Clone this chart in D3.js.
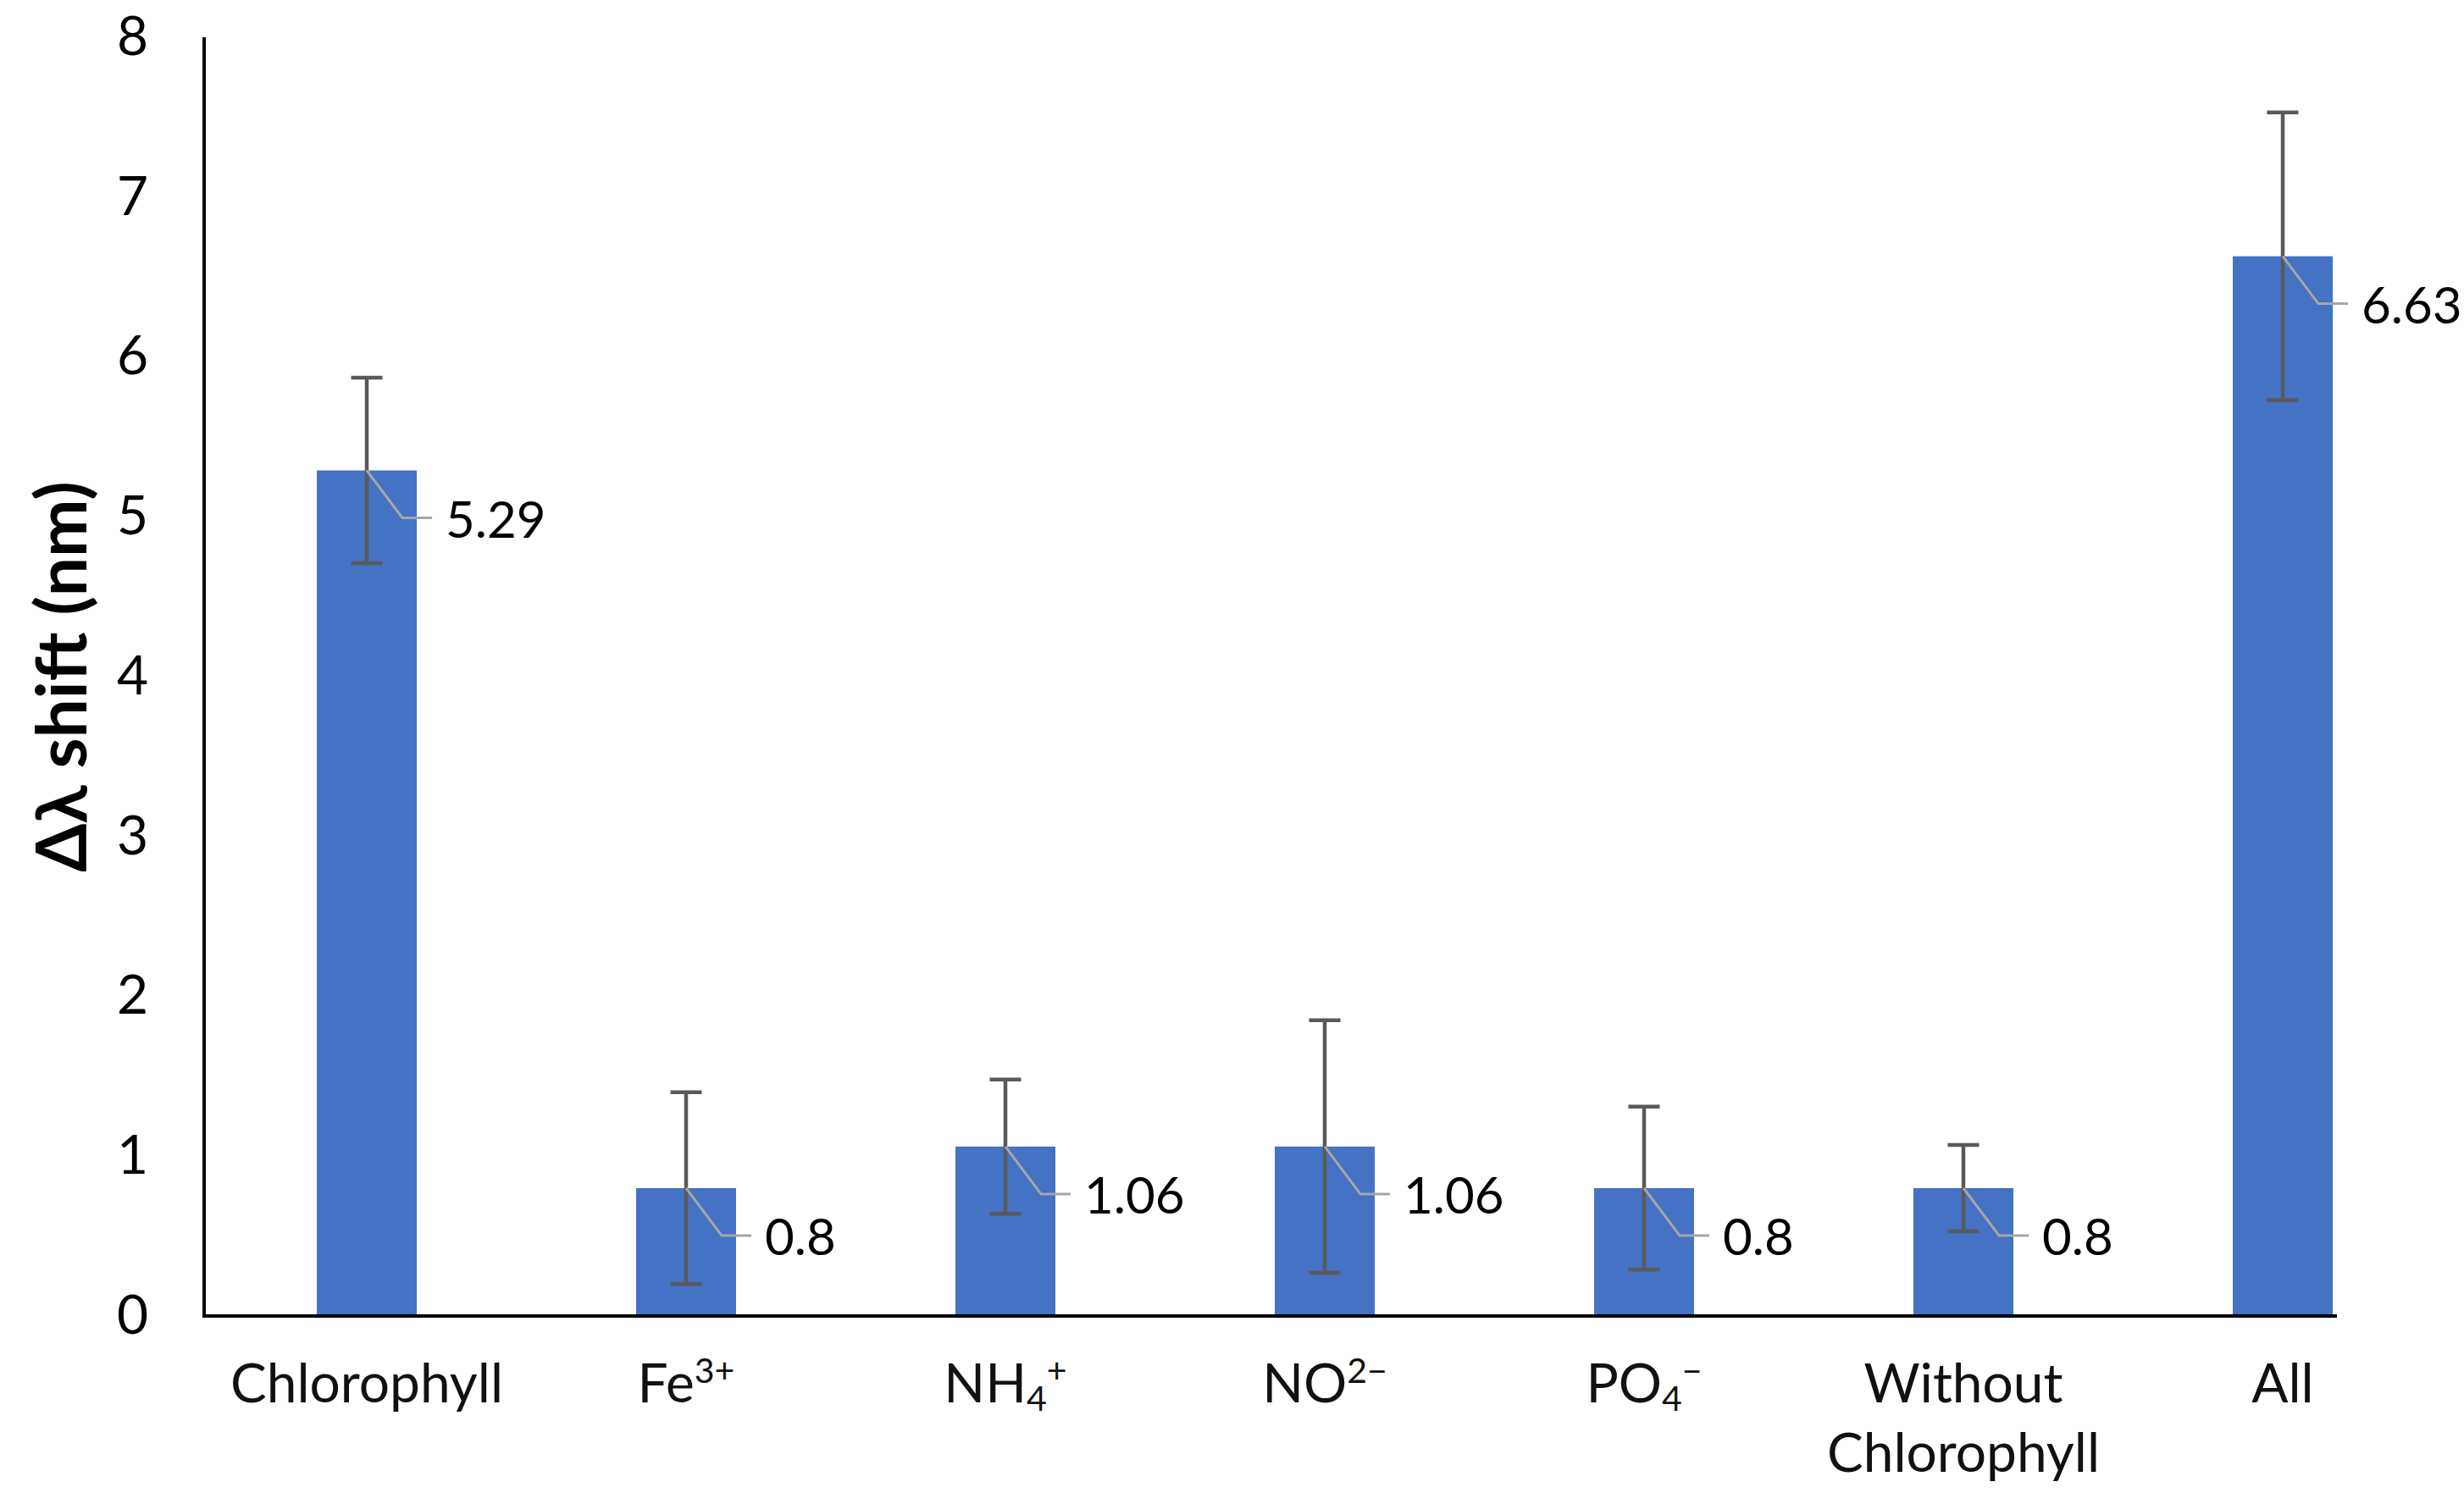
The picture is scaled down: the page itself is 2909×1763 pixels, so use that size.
<!DOCTYPE html>
<html>
<head>
<meta charset="utf-8">
<script src="https://cdn.jsdelivr.net/npm/d3@7/dist/d3.min.js"></script>
<style>
  html, body { margin: 0; padding: 0; background: #fff; }
  svg { display: block; }
  text { font-family: Lato, "Liberation Sans", sans-serif; }
</style>
</head>
<body>
<svg id="chart" width="2909" height="1763"></svg>
<script>
// ---- data ----
const categories = ["Chlorophyll", "Fe3+", "NH4+", "NO2-", "PO4-", "Without Chlorophyll", "All"];
// label parts: [text, kind] kind: n = normal, sup = superscript, sub = subscript
const labelParts = [
  [["Chlorophyll", "n"]],
  [["Fe", "n"], ["3+", "sup"]],
  [["NH", "n"], ["4", "sub"], ["+", "sup"]],
  [["NO", "n"], ["2\u2212", "sup"]],
  [["PO", "n"], ["4", "sub"], ["\u2212", "sup"]],
  [["Without", "n"]],
  [["All", "n"]]
];
const labelSecondLine = ["", "", "", "", "", "Chlorophyll", ""];
const values = [5.29, 0.8, 1.06, 1.06, 0.8, 0.8, 6.63];
const errors = [0.58, 0.6, 0.42, 0.79, 0.51, 0.27, 0.9];
const yTicks = [0, 1, 2, 3, 4, 5, 6, 7, 8];
const yTitle = "\u0394\u03bb shift (nm)";

// ---- layout ----
const svg = d3.select("#chart");
const x0 = 241, yBase = 1554, yTop = 44;
const x = d3.scaleBand()
  .domain(categories)
  .range([244.5, 2883.5])
  .paddingInner(0.687)
  .paddingOuter(0.3435);
const y = d3.scaleLinear().domain([0, 8]).range([yBase, yTop]);
const axisRightEnd = 2759;

// bars
svg.append("g").selectAll("rect")
  .data(values)
  .join("rect")
  .attr("x", (d, i) => x(categories[i]))
  .attr("y", d => y(d))
  .attr("width", x.bandwidth())
  .attr("height", d => y(0) - y(d))
  .attr("fill", "#4472C4");

// error bars
const eg = svg.append("g").attr("stroke", "#595959").attr("stroke-width", 4.5).attr("fill", "none");
values.forEach((v, i) => {
  const cx = x(categories[i]) + x.bandwidth() / 2;
  const hi = y(v + errors[i]), lo = y(v - errors[i]);
  eg.append("line").attr("x1", cx).attr("x2", cx).attr("y1", hi).attr("y2", lo);
  eg.append("line").attr("x1", cx - 18.5).attr("x2", cx + 18.5).attr("y1", hi).attr("y2", hi);
  eg.append("line").attr("x1", cx - 18.5).attr("x2", cx + 18.5).attr("y1", lo).attr("y2", lo);
});

// data labels with leader lines
const lg = svg.append("g");
values.forEach((v, i) => {
  const cx = x(categories[i]) + x.bandwidth() / 2;
  const ty = y(v);
  const off = 56;
  lg.append("path")
    .attr("d", `M${cx},${ty} L${cx + 42},${ty + off} L${cx + 77},${ty + off}`)
    .attr("fill", "none").attr("stroke", "#a6a6a6").attr("stroke-width", 3);
  lg.append("text")
    .attr("x", cx + 93).attr("y", ty + off)
    .attr("dominant-baseline", "central")
    .attr("font-size", 60).attr("fill", "#000")
    .text(d3.format("")(v));
});

// y axis
const yAxis = d3.axisLeft(y).tickValues(yTicks).tickSize(0).tickPadding(66).tickFormat(d3.format("d"));
const yg = svg.append("g").attr("transform", `translate(${x0},0)`).call(yAxis);
yg.select(".domain").remove();
yg.selectAll("text").attr("font-size", 64).attr("fill", "#000").attr("font-family", "Lato, 'Liberation Sans', sans-serif");
svg.append("line").attr("x1", x0).attr("x2", x0).attr("y1", yTop).attr("y2", yBase + 2)
  .attr("stroke", "#000").attr("stroke-width", 4);

// x axis
svg.append("line").attr("x1", x0 - 2).attr("x2", axisRightEnd).attr("y1", yBase).attr("y2", yBase)
  .attr("stroke", "#000").attr("stroke-width", 4);
const xg = svg.append("g");
categories.forEach((c, i) => {
  const cx = x(c) + x.bandwidth() / 2;
  const t = xg.append("text")
    .attr("x", cx).attr("y", 1656)
    .attr("text-anchor", "middle")
    .attr("font-size", 64).attr("fill", "#111");
  labelParts[i].forEach(([s, k]) => {
    const ts = t.append("tspan").text(s);
    if (k === "sup") ts.attr("font-size", 41).attr("baseline-shift", "55%");
    if (k === "sub") ts.attr("font-size", 41).attr("baseline-shift", "-25%");
  });
  if (labelSecondLine[i]) {
    xg.append("text")
      .attr("x", cx).attr("y", 1738)
      .attr("text-anchor", "middle")
      .attr("font-size", 64).attr("fill", "#111")
      .text(labelSecondLine[i]);
  }
});

// y title
svg.append("text")
  .attr("transform", `translate(102,${(yTop + yBase) / 2}) rotate(-90)`)
  .attr("text-anchor", "middle")
  .attr("font-size", 82).attr("font-weight", "bold").attr("fill", "#000")
  .text(yTitle);
</script>
</body>
</html>
